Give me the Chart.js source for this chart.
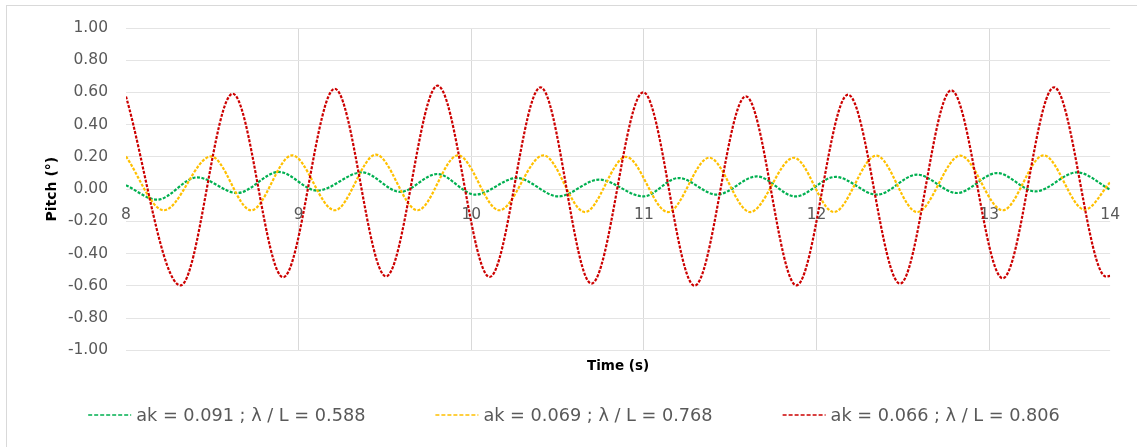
<!DOCTYPE html>
<html>
<head>
<meta charset="utf-8">
<script src="https://cdn.jsdelivr.net/npm/chart.js@4.4.1/dist/chart.umd.min.js"></script>
<style>
  html, body { margin: 0; padding: 0; background: #fff; }
  #wrap { position: relative; width: 1137px; height: 447px; overflow: hidden; }
  #frame { position: absolute; left: 6px; top: 5px; width: 1300px; height: 600px; border: 1px solid #d9d9d9; }
  #chart { position: absolute; left: 0; top: 0; }
</style>
</head>
<body>
<div id="wrap">
  <div id="frame"></div>
  <canvas id="chart" width="1137" height="447"></canvas>
</div>
<script>
// values (peaks / troughs, plus the edges of the plot)
const seriesLabels = [
    'ak = 0.091 ; λ / L = 0.588',
    'ak = 0.069 ; λ / L = 0.768',
    'ak = 0.066 ; λ / L = 0.806'
];
const seriesColors = ['#00b050', '#ffc000', '#cc0000'];

const greenTime = [8.00, 8.181, 8.412, 8.644, 8.885, 9.107, 9.367, 9.589, 9.802, 10.023, 10.264, 10.505, 10.740,
    10.997, 11.200, 11.422, 11.654, 11.877, 12.109, 12.350, 12.582, 12.813, 13.045, 13.267, 13.508, 13.70];
const greenPitch = [0.024, -0.065, 0.073, -0.024, 0.107, -0.009, 0.104, -0.017, 0.094, -0.034, 0.069, -0.045, 0.059,
    -0.045, 0.069, -0.034, 0.079, -0.045, 0.076, -0.034, 0.090, -0.024, 0.100, -0.014, 0.104, -0.003];

const yellowTime = [8.00, 8.219, 8.493, 8.725, 8.962, 9.209, 9.448, 9.689, 9.923, 10.162, 10.418, 10.658, 10.896,
    11.139, 11.378, 11.615, 11.868, 12.100, 12.346, 12.582, 12.832, 13.078, 13.315, 13.553, 13.70];
const yellowPitch = [0.203, -0.131, 0.203, -0.131, 0.210, -0.131, 0.214, -0.131, 0.210, -0.131, 0.210, -0.142, 0.200,
    -0.142, 0.195, -0.142, 0.195, -0.142, 0.208, -0.142, 0.208, -0.131, 0.210, -0.127, 0.042];

const redTime = [8.00, 8.316, 8.618, 8.910, 9.209, 9.506, 9.805, 10.106, 10.401, 10.696, 10.996, 11.293, 11.590,
    11.883, 12.182, 12.483, 12.780, 13.078, 13.375, 13.676, 13.70];
const redPitch = [0.575, -0.597, 0.592, -0.547, 0.623, -0.541, 0.642, -0.545, 0.632, -0.586, 0.601, -0.599, 0.576,
    -0.597, 0.586, -0.586, 0.613, -0.553, 0.632, -0.542, -0.538];

// axis: Excel stops at 13.7 but prints it as "14"
const xTicks = [8, 9, 10, 11, 12, 13, 13.7];
const yMin = -1, yMax = 1, yStep = 0.2;

const tickFont = { family: '"DejaVu Sans"', size: 15.5 };
const textGray = '#595959';

function toPoints(times, values) {
    return times.map((t, i) => ({ x: t, y: values[i] }));
}

const allSeries = [
    toPoints(greenTime, greenPitch),
    toPoints(yellowTime, yellowPitch),
    toPoints(redTime, redPitch)
];

// legend drawn by hand so the spacing matches the Excel one
const legendLines = {
    id: 'legendLines',
    afterDraw(chart) {
        const ctx = chart.ctx;
        const lineLen = 43, textGap = 5, itemGap = 70, centerX = 574, y = 415;
        ctx.save();
        ctx.font = '17.7px "DejaVu Sans"';
        ctx.textBaseline = 'middle';
        const widths = chart.data.datasets.map(ds => lineLen + textGap + ctx.measureText(ds.label).width);
        const total = widths.reduce((a, b) => a + b, 0) + itemGap * (widths.length - 1);
        let x = centerX - total / 2;
        chart.data.datasets.forEach((ds, i) => {
            ctx.strokeStyle = ds.borderColor;
            ctx.lineWidth = 1.5;
            ctx.setLineDash([4, 2]);
            ctx.beginPath();
            ctx.moveTo(x, y);
            ctx.lineTo(x + lineLen, y);
            ctx.stroke();
            ctx.setLineDash([]);
            ctx.fillStyle = textGray;
            ctx.fillText(ds.label, x + lineLen + textGap, y + 1);
            x += widths[i] + itemGap;
        });
        ctx.restore();
    }
};

new Chart(document.getElementById('chart'), {
    type: 'line',
    data: {
        datasets: allSeries.map((pts, i) => ({
            label: seriesLabels[i],
            data: pts,
            borderColor: seriesColors[i],
            borderWidth: 2.2,
            borderDash: [3, 1.5],
            pointRadius: 0,
            fill: false,
            cubicInterpolationMode: 'monotone',
            order: 2 - i
        }))
    },
    options: {
        responsive: false,
        animation: false,
        events: [],
        layout: { padding: { top: 28, right: 26, bottom: 72.5, left: 0 } },
        plugins: {
            legend: { display: false },
            tooltip: { enabled: false }
        },
        scales: {
            x: {
                type: 'linear',
                position: { y: 0 },
                min: xTicks[0],
                max: xTicks[xTicks.length - 1],
                afterBuildTicks: scale => { scale.ticks = xTicks.map(v => ({ value: v })); },
                grid: {
                    drawTicks: false,
                    color: c => (c.tick && (c.tick.value === xTicks[0] || c.tick.value === xTicks[xTicks.length - 1]))
                        ? 'rgba(0,0,0,0)' : '#d9d9d9'
                },
                border: { display: false },
                ticks: {
                    font: tickFont,
                    color: textGray,
                    padding: 17,
                    maxRotation: 0,
                    autoSkip: false,
                    callback: v => String(Math.round(v))
                }
            },
            xTitle: {
                type: 'linear',
                position: 'bottom',
                grid: { display: false, drawTicks: false },
                border: { display: false },
                ticks: { display: false },
                title: {
                    display: true,
                    text: 'Time (s)',
                    color: '#000',
                    font: { family: '"DejaVu Sans"', size: 13.5, weight: 'bold' },
                    padding: { top: 8, bottom: 0 }
                }
            },
            y: {
                min: yMin,
                max: yMax,
                afterFit: scale => { scale.width = 126; },
                grid: { drawTicks: false, color: '#e4e4e4' },
                border: { display: false },
                ticks: {
                    stepSize: yStep,
                    font: tickFont,
                    color: textGray,
                    padding: 18,
                    callback: v => v.toFixed(2)
                },
                title: {
                    display: true,
                    text: 'Pitch (°)',
                    color: '#000',
                    font: { family: '"DejaVu Sans"', size: 14, weight: 'bold' },
                    padding: { top: 43.6, bottom: 0 }
                }
            }
        }
    },
    plugins: [legendLines]
});
</script>
</body>
</html>
